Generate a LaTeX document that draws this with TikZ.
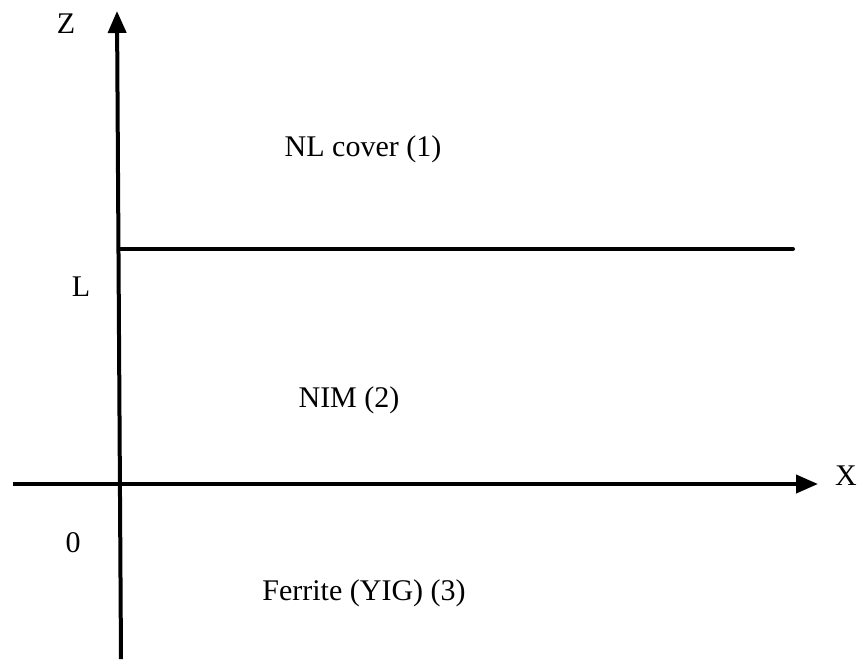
\documentclass[tikz,border=0pt]{standalone}
\usepackage{fontspec}
\setmainfont{Liberation Serif}
\usetikzlibrary{arrows.meta}
\begin{document}
\begin{tikzpicture}[x=1pt,y=-1pt,
  axis/.style={line width=4pt,-{Triangle[length=22pt,width=18pt]}},
  rule/.style={line width=4pt},
  lbl/.style={anchor=base,inner sep=0pt,font=\fontsize{30}{36}\selectfont}]
\useasboundingbox (0,0) rectangle (861,659);
% axis end points
\coordinate (zbot) at (121,659);
\coordinate (ztop) at (117,11);
\coordinate (xleft) at (13,484);
\coordinate (xright) at (818,484);
\coordinate (lleft) at (119,249);
\coordinate (lright) at (793,249);
% lines
\draw[axis] (zbot) -- (ztop);
\draw[axis] (xleft) -- (xright);
\draw[rule,line cap=round] (lleft) -- (lright);
% labels
\node[lbl] (zl) at (66,33) {Z};
\node[lbl] (xl) at (846,485) {X};
\node[lbl] (ll) at (81,296) {L};
\node[lbl] (ol) at (73,552) {0};
\node[lbl] (nl) at (363,156) {NL cover (1)};
\node[lbl] (nim) at (349,407) {NIM (2)};
\node[lbl] (fer) at (364,600) {Ferrite (YIG) (3)};
\end{tikzpicture}
\end{document}
